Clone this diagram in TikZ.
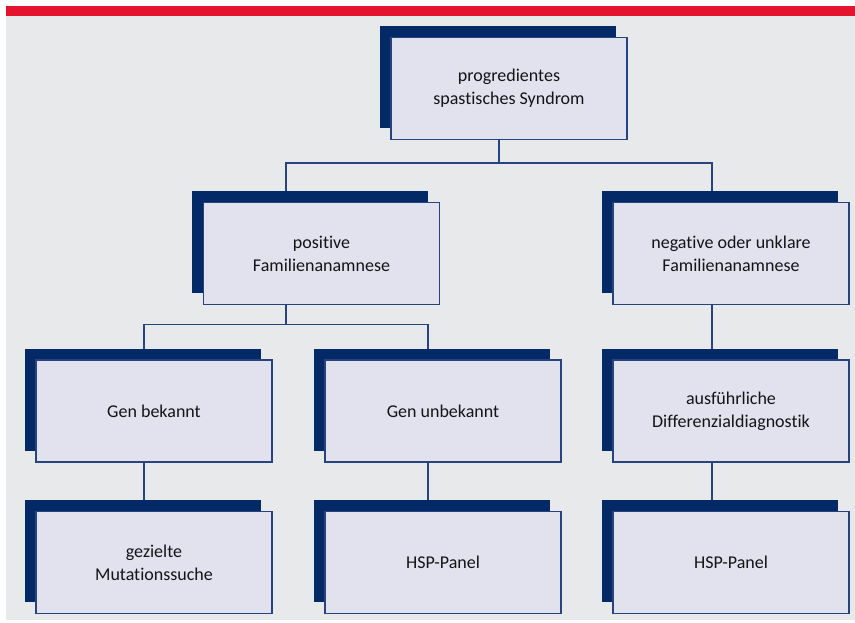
\documentclass[tikz,border=0pt]{standalone}
\usepackage{fontspec}
\setmainfont{Carlito}[Ligatures={NoCommon}]
\usepackage{tikz}
\usetikzlibrary{shadows, backgrounds}
\definecolor{navy}{RGB}{3,42,102}
\definecolor{frame}{RGB}{40,68,128}
\definecolor{lilac}{RGB}{225,226,238}
\definecolor{paper}{RGB}{232,233,235}
\definecolor{signal}{RGB}{228,19,46}
\definecolor{ink}{RGB}{20,20,22}

\begin{document}
\begin{tikzpicture}[x=0.75pt, y=-0.75pt,
      every node/.style={font=\fontsize{13.5pt}{17.3pt}\selectfont, text=ink},
      box/.style={draw=frame, line width=0.9pt, fill=lilac, align=center,
                  minimum width=177pt, minimum height=76.5pt, inner sep=0pt,
                  general shadow={fill=navy, shadow xshift=-8.6pt, shadow yshift=8.6pt}},
      link/.style={draw=frame, line width=0.9pt}]
    \useasboundingbox (0,0) rectangle (855,623);
    \node[box] (top) at (509,88.5) {progredientes\\spastisches Syndrom};
    \node[box] (pos) at (321.5,253.5) {positive\\Familienanamnese};
    \node[box] (neg) at (731,253.5) {negative oder unklare\\Familienanamnese};
    \node[box] (gb) at (154,411) {Gen bekannt};
    \node[box] (gu) at (443,411) {Gen unbekannt};
    \node[box] (aus) at (731,411) {ausführliche\\Differenzialdiagnostik};
    \node[box] (mut) at (154,562.5) {gezielte\\Mutationssuche};
    \node[box] (hsp1) at (443,562.5) {HSP-Panel};
    \node[box] (hsp2) at (731,562.5) {HSP-Panel};
    \begin{scope}[on background layer]
      \fill[white] (0,0) rectangle (855,623);
      \fill[paper] (6,16) rectangle (855,620);
      \fill[signal] (6,6) rectangle (855,16);
      \draw[link] ([xshift=-7.5pt]top.south) -- ++(0,23) coordinate (j1);
      \draw[link] ([xshift=-26.6pt]pos.north) |- (j1) -| ([xshift=-14.25pt]neg.north);
      \draw[link] ([xshift=-26.6pt]pos.south) -- ++(0,19) coordinate (j2);
      \draw[link] ([xshift=-7.5pt]gb.north) |- (j2) -| ([xshift=-11.25pt]gu.north);
      \draw[link] ([xshift=-14.25pt]neg.south) -- ([xshift=-14.25pt]aus.north);
      \draw[link] ([xshift=-7.5pt]gb.south) -- ([xshift=-7.5pt]mut.north);
      \draw[link] ([xshift=-11.25pt]gu.south) -- ([xshift=-11.25pt]hsp1.north);
      \draw[link] ([xshift=-14.25pt]aus.south) -- ([xshift=-14.25pt]hsp2.north);
    \end{scope}
  \end{tikzpicture}
\end{document}
